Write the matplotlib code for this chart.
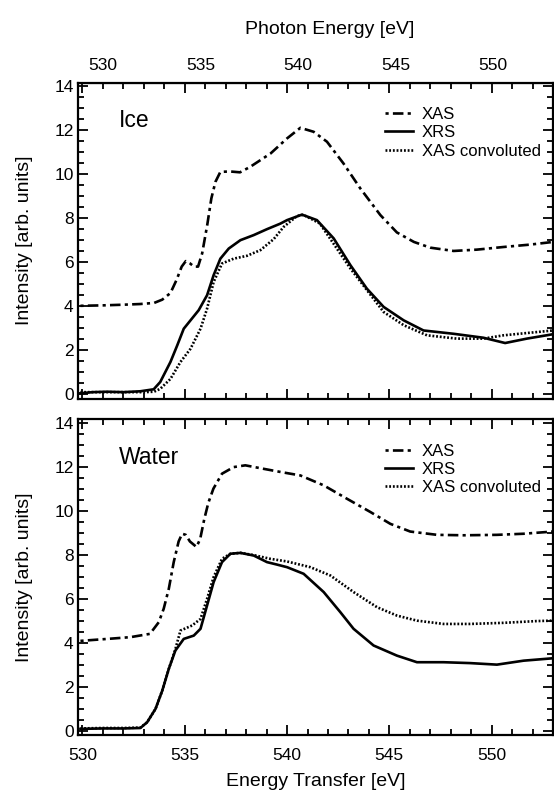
import numpy as np
import matplotlib
matplotlib.use("Agg")
import matplotlib.pyplot as plt
from matplotlib.ticker import MultipleLocator

plt.rcParams['font.family'] = ['Liberation Sans', 'DejaVu Sans']

# ---- Ice: values ----
ice_xas_x = [529.9, 531.0, 532.0, 532.8, 533.5, 533.9, 534.3, 534.6, 534.85, 535.05, 535.25,
             535.45, 535.65, 535.85, 536.1, 536.3, 536.5, 536.74, 537.2, 537.7, 538.2,
             539.2, 540.0, 540.65, 541.3, 541.95, 542.76, 543.58, 544.56, 545.37, 546.2,
             547.0, 548.14, 549.28, 550.58, 551.9, 553.0]
ice_xas_y = [4.02, 4.04, 4.07, 4.1, 4.15, 4.3, 4.6, 5.2, 5.8, 6.05, 5.95,
             5.8, 5.8, 6.4, 7.7, 8.9, 9.65, 10.1, 10.12, 10.08, 10.33,
             10.94, 11.62, 12.1, 11.92, 11.47, 10.48, 9.35, 8.14, 7.35, 6.92,
             6.66, 6.51, 6.57, 6.69, 6.8, 6.92]

ice_xrs_x = [529.9, 530.5, 531.2, 532.0, 532.83, 533.48, 533.8, 534.3, 534.63, 534.95, 535.28,
             535.68, 536.09, 536.41, 536.74, 537.15, 537.72, 538.37, 539.02, 539.67, 540.0,
             540.73, 541.46, 542.28, 543.1, 543.9, 544.72, 545.7, 546.67, 548.14, 549.6,
             550.66, 551.72, 553.0]
ice_xrs_y = [0.05, 0.1, 0.12, 0.1, 0.14, 0.23, 0.56, 1.47, 2.22, 2.98, 3.36,
             3.82, 4.5, 5.41, 6.16, 6.62, 7.0, 7.23, 7.5, 7.75, 7.91,
             8.16, 7.91, 7.08, 5.86, 4.8, 3.97, 3.36, 2.9, 2.75, 2.57,
             2.33, 2.53, 2.73]

ice_conv_x = [529.9, 531.0, 532.0, 533.0, 533.5, 533.8, 534.3, 534.79, 535.28, 535.77, 536.09,
              536.41, 536.82, 537.39, 538.04, 538.7, 539.35, 539.83, 540.49, 540.8, 541.6,
              543.1, 544.72, 545.7, 546.84, 548.3, 549.6, 550.58, 551.9, 553.0]
ice_conv_y = [0.1, 0.1, 0.1, 0.1, 0.12, 0.25, 0.7, 1.47, 2.07, 2.98, 3.89,
              5.1, 5.94, 6.16, 6.29, 6.55, 7.05, 7.6, 8.1, 8.15, 7.76,
              5.71, 3.74, 3.14, 2.68, 2.53, 2.53, 2.68, 2.8, 2.9]

# ---- Water ----
wat_xas_x = [529.9, 531.37, 532.35, 533.3, 533.73, 533.97, 534.22, 534.46, 534.7, 534.87, 535.05,
             535.25, 535.57, 535.75, 535.95, 536.15, 536.4, 536.82, 537.39, 537.96, 538.86,
             539.67, 540.65, 541.79, 542.93, 544.07, 545.05, 546.02, 547.33, 548.63, 550.26,
             551.56, 553.0]
wat_xas_y = [4.08, 4.18, 4.25, 4.4, 4.93, 5.54, 6.45, 7.66, 8.6, 8.95, 8.9,
             8.6, 8.35, 8.7, 9.6, 10.35, 11.0, 11.68, 11.98, 12.06, 11.9,
             11.76, 11.6, 11.15, 10.54, 9.94, 9.4, 9.05, 8.9, 8.88, 8.9,
             8.95, 9.05]

wat_xrs_x = [529.9, 531.0, 532.0, 532.83, 533.16, 533.57, 533.9, 534.22, 534.54, 534.95, 535.44,
             535.77, 536.09, 536.41, 536.82, 537.23, 537.72, 538.37, 539.02, 539.5, 540.0,
             540.81, 541.79, 542.6, 543.25, 544.23, 545.37, 546.35, 547.65, 548.95, 550.26,
             551.56, 553.0]
wat_xrs_y = [0.08, 0.1, 0.1, 0.12, 0.38, 0.99, 1.82, 2.81, 3.64, 4.17, 4.32,
             4.63, 5.69, 6.75, 7.66, 8.04, 8.08, 7.96, 7.66, 7.55, 7.43,
             7.13, 6.3, 5.39, 4.63, 3.87, 3.41, 3.11, 3.11, 3.07, 3.0,
             3.18, 3.29]

wat_conv_x = [529.9, 531.0, 532.0, 532.83, 533.16, 533.57, 533.9, 534.22, 534.54, 534.79, 535.36,
              535.77, 536.09, 536.41, 536.82, 537.23, 537.72, 538.37, 539.18, 540.0, 541.14,
              542.12, 543.25, 544.4, 545.37, 546.35, 547.65, 548.95, 550.58, 552.2, 553.0]
wat_conv_y = [0.1, 0.12, 0.12, 0.14, 0.38, 0.99, 1.82, 2.81, 3.7, 4.55, 4.78,
              5.08, 5.99, 6.98, 7.81, 8.04, 8.08, 7.98, 7.81, 7.69, 7.43,
              7.05, 6.3, 5.61, 5.23, 5.0, 4.85, 4.85, 4.9, 4.98, 5.0]

photon_ticks = [530, 535, 540, 545, 550]


def photon(t):
    return 530 + (np.asarray(t) - 531.0) / 0.954


def transfer(p):
    return 531.0 + 0.954 * (np.asarray(p) - 530)


fig = plt.figure(figsize=(5.54, 7.98), dpi=100)
ax1 = fig.add_axes([0.1415, 0.5003, 0.8567, 0.3961])
ax2 = fig.add_axes([0.1415, 0.0789, 0.8567, 0.3956])

lw = 1.9
panels = [
    (ax1, "Ice", ice_xas_x, ice_xas_y, ice_xrs_x, ice_xrs_y, ice_conv_x, ice_conv_y),
    (ax2, "Water", wat_xas_x, wat_xas_y, wat_xrs_x, wat_xrs_y, wat_conv_x, wat_conv_y),
]

for ax, name, xa, ya, xr, yr, xc, yc in panels:
    ax.plot(xa, ya, color='black', lw=lw, dashes=(1.2, 1.6, 4.0, 1.6), label='XAS')
    ax.plot(xr, yr, color='black', lw=lw, label='XRS')
    ax.plot(xc, yc, color='black', lw=lw, dashes=(0.7, 0.7), label='XAS convoluted')

    ax.set_xlim(529.8, 553.0)
    ax.set_ylim(-0.2, 14.15)
    ax.xaxis.set_major_locator(MultipleLocator(5))
    ax.xaxis.set_minor_locator(MultipleLocator(1))
    ax.yaxis.set_major_locator(MultipleLocator(2))
    ax.yaxis.set_minor_locator(MultipleLocator(0.5))
    ax.tick_params(which='both', direction='in', top=True, right=True, width=1.3,
                   labelsize=12.5)
    ax.tick_params(which='major', length=7)
    ax.tick_params(which='minor', length=4)
    ax.tick_params(axis='y', pad=3.5)
    ax.tick_params(axis='x', pad=9.5)
    for s in ax.spines.values():
        s.set_linewidth(1.6)

    ax.set_ylabel("Intensity [arb. units]", fontsize=14, labelpad=15)
    ax.text(0.085, 0.88, name, transform=ax.transAxes, fontsize=16.5,
            ha='left', va='center')
    ax.legend(loc='upper right', bbox_to_anchor=(0.995, 0.955), frameon=False,
              fontsize=12, handlelength=1.7, handletextpad=0.5,
              labelspacing=0.2, borderaxespad=0.2)

ax1.tick_params(axis='x', labelbottom=False)

sec = ax1.secondary_xaxis('top', functions=(photon, transfer))
sec.set_xticks(photon_ticks)
sec.tick_params(length=0, labelsize=12.5, pad=7)
sec.set_xlabel("Photon Energy [eV]", fontsize=14, labelpad=17)
sec.xaxis.label.set_x(0.53)

ax2.set_xlabel("Energy Transfer [eV]", fontsize=14, labelpad=7)

fig.savefig("out.png", dpi=100)
